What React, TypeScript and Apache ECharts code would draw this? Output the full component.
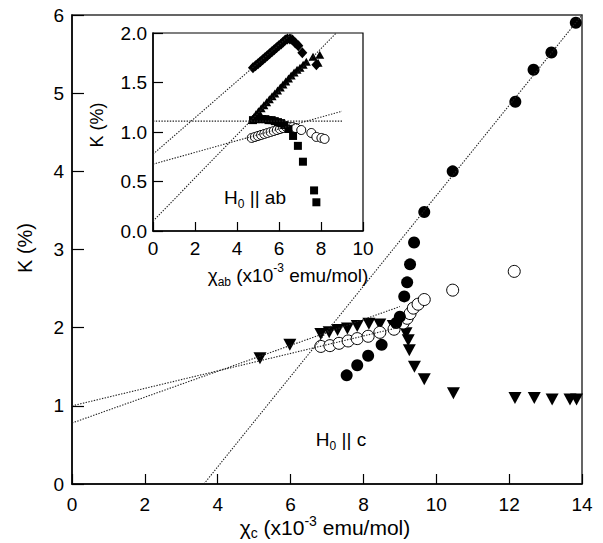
import React, { useEffect, useRef } from 'react';
import * as echarts from 'echarts';

// ---------- Main panel (H0 || c): chi_c (x10^-3 emu/mol) vs K (%) ----------
const cFilledX = [7.54, 7.83, 8.13, 8.5, 8.9, 9.0, 9.12, 9.2, 9.28, 9.39, 9.67, 10.45, 12.17, 12.67, 13.16, 13.83];
const cFilledY = [1.39, 1.52, 1.64, 1.78, 2.06, 2.14, 2.4, 2.58, 2.81, 3.09, 3.48, 4.0, 4.89, 5.3, 5.52, 5.9];

const cOpenX = [6.83, 7.08, 7.33, 7.58, 7.83, 8.13, 8.45, 8.84, 9.09, 9.2, 9.28, 9.37, 9.5, 9.67, 10.45, 12.14];
const cOpenY = [1.76, 1.77, 1.8, 1.83, 1.86, 1.89, 1.94, 1.98, 2.06, 2.12, 2.18, 2.25, 2.3, 2.36, 2.48, 2.72];

const cTriX = [5.16, 5.98, 6.83, 7.06, 7.29, 7.56, 7.83, 8.15, 8.45, 8.82, 9.17, 9.23, 9.26, 9.4, 9.67, 10.47, 12.16, 12.69, 13.18, 13.67, 13.85];
const cTriY = [1.61, 1.78, 1.92, 1.94, 1.97, 1.99, 2.02, 2.05, 2.04, 2.02, 1.93, 1.84, 1.71, 1.5, 1.34, 1.16, 1.1, 1.1, 1.08, 1.08, 1.08];

// dotted fit lines (end points)
const cFitSteepX = [3.62, 14.0];
const cFitSteepY = [0, 6.0];
const cFitOpenX = [0, 8.95];
const cFitOpenY = [1.0, 2.0];
const cFitTriX = [0, 9.0];
const cFitTriY = [0.78, 2.27];

const cTicksX = { min: 0, max: 14, interval: 2 };
const cTicksY = { min: 0, max: 6, interval: 1 };

// ---------- Inset (H0 || ab): chi_ab vs K (%) ----------
const abDiamondX = [4.76, 4.88, 5.0, 5.11, 5.22, 5.33, 5.44, 5.55, 5.66, 5.77, 5.88, 5.99, 6.1, 6.2, 6.3, 6.4, 6.52, 6.64, 6.78, 6.92, 7.11, 7.78];
const abDiamondY = [1.65, 1.67, 1.69, 1.71, 1.73, 1.75, 1.77, 1.79, 1.81, 1.83, 1.85, 1.87, 1.89, 1.91, 1.93, 1.94, 1.94, 1.93, 1.9, 1.87, 1.8, 1.68];

const abTriX = [4.72, 4.8, 4.9, 5.02, 5.15, 5.28, 5.41, 5.54, 5.67, 5.8, 5.93, 6.06, 6.19, 6.32, 6.45, 6.58, 6.72, 6.86, 7.0, 7.15, 7.3, 7.62, 7.86, 7.94];
const abTriY = [1.12, 1.15, 1.18, 1.21, 1.24, 1.27, 1.3, 1.33, 1.36, 1.39, 1.42, 1.45, 1.48, 1.51, 1.54, 1.57, 1.6, 1.63, 1.65, 1.68, 1.71, 1.76, 1.7, 1.78];

const abSquareX = [4.76, 4.9, 5.05, 5.2, 5.35, 5.5, 5.65, 5.8, 5.95, 6.1, 6.25, 6.45, 6.67, 6.9, 7.14, 7.67, 7.78];
const abSquareY = [1.12, 1.13, 1.13, 1.13, 1.13, 1.12, 1.12, 1.11, 1.1, 1.09, 1.07, 1.03, 0.96, 0.86, 0.7, 0.41, 0.29];

const abOpenX = [4.7, 4.85, 5.0, 5.15, 5.3, 5.45, 5.6, 5.75, 5.9, 6.05, 6.2, 6.35, 6.5, 6.65, 6.8, 7.06, 7.54, 7.78, 8.02, 8.17];
const abOpenY = [0.94, 0.95, 0.96, 0.97, 0.98, 0.99, 1.0, 1.01, 1.02, 1.03, 1.04, 1.05, 1.05, 1.05, 1.04, 1.02, 0.99, 0.95, 0.94, 0.93];

const abFitHorizX = [0, 9.0];
const abFitHorizY = [1.11, 1.11];
const abFitOpenX = [0, 9.0];
const abFitOpenY = [0.675, 1.21];
const abFitDiamondX = [0, 6.65];
const abFitDiamondY = [0.776, 2.0];
const abFitTriX = [0, 8.72];
const abFitTriY = [0.1, 2.0];

const abTicksX = { min: 0, max: 10, interval: 2 };
const abTicksY = { min: 0, max: 2, interval: 0.5 };

const FONT = '"Liberation Sans", Arial, Helvetica, sans-serif';
const INK = '#000';

const zip = (xs: number[], ys: number[]) => xs.map((x, i) => [x, ys[i]]);

const richStyles = (size: number) => ({
  n: { fontSize: size, lineHeight: 26, verticalAlign: 'middle', fontFamily: FONT, color: INK },
  sub: { fontSize: Math.round(size * 0.65), lineHeight: 8, verticalAlign: 'bottom', fontFamily: FONT, color: INK },
  sup: { fontSize: Math.round(size * 0.65), lineHeight: 8, verticalAlign: 'top', fontFamily: FONT, color: INK },
});

function lineSeries(name: string, xs: number[], ys: number[], axis: number) {
  return {
    name,
    type: 'line',
    xAxisIndex: axis,
    yAxisIndex: axis,
    data: zip(xs, ys),
    showSymbol: false,
    symbol: 'none',
    z: 6,
    silent: true,
    lineStyle: { color: '#222', width: 1.1, type: [1.4, 1.4] },
  };
}

function scatter(name: string, xs: number[], ys: number[], axis: number, symbol: string, size: any, open: boolean, extra: any = {}) {
  return {
    name,
    type: 'scatter',
    xAxisIndex: axis,
    yAxisIndex: axis,
    data: zip(xs, ys),
    symbol,
    symbolSize: size,
    itemStyle: open
      ? { color: '#fff', borderColor: INK, borderWidth: 1, opacity: 1 }
      : { color: INK, opacity: 1 },
    ...extra,
  };
}

export default function App() {
  const ref = useRef<HTMLDivElement>(null);
  useEffect(() => {
    if (!ref.current) return;
    const chart = echarts.init(ref.current, undefined, { renderer: 'svg' });
    const axisCommon = (fontSize: number, tickLen: number, margin: number) => ({
      type: 'value',
      axisLine: { show: true, onZero: false, lineStyle: { color: INK, width: 1.5 } },
      axisTick: { show: true, inside: true, length: tickLen, lineStyle: { color: INK, width: 1.2 } },
      axisLabel: { color: INK, fontSize, fontFamily: FONT, margin },
      splitLine: { show: false },
    });
    const option: any = {
      animation: false,
      backgroundColor: '#fff',
      grid: [
        { left: 72, top: 15, width: 510, height: 469, show: true, borderColor: '#333', borderWidth: 1.5, backgroundColor: 'transparent' },
        { left: 153, top: 33, width: 210, height: 198, show: true, borderColor: INK, borderWidth: 1.2, backgroundColor: '#fff' },
      ],
      xAxis: [
        { ...axisCommon(19, 10, 11), gridIndex: 0, ...cTicksX },
        { ...axisCommon(19, 9, 8), gridIndex: 1, ...abTicksX },
      ],
      yAxis: [
        { ...axisCommon(19, 12, 8), gridIndex: 0, ...cTicksY },
        {
          ...axisCommon(19, 10, 6),
          gridIndex: 1,
          ...abTicksY,
          axisLabel: { color: INK, fontSize: 19, fontFamily: FONT, margin: 6, formatter: (v: number) => v.toFixed(1) },
        },
      ],
      series: [
        scatter('c-tri', cTriX, cTriY, 0, 'triangle', [13, 12], false, { symbolRotate: 180 }),
        scatter('c-open', cOpenX, cOpenY, 0, 'circle', 12, true),
        scatter('c-filled', cFilledX, cFilledY, 0, 'circle', 12, false),
        lineSeries('c-fit-steep', cFitSteepX, cFitSteepY, 0),
        lineSeries('c-fit-open', cFitOpenX, cFitOpenY, 0),
        lineSeries('c-fit-tri', cFitTriX, cFitTriY, 0),
        scatter('ab-open', abOpenX, abOpenY, 1, 'circle', 9, true),
        scatter('ab-square', abSquareX, abSquareY, 1, 'rect', 8, false),
        scatter('ab-tri', abTriX, abTriY, 1, 'triangle', [9, 8], false),
        scatter('ab-diamond', abDiamondX, abDiamondY, 1, 'diamond', [10, 11], false),
        lineSeries('ab-fit-h', abFitHorizX, abFitHorizY, 1),
        lineSeries('ab-fit-open', abFitOpenX, abFitOpenY, 1),
        lineSeries('ab-fit-diamond', abFitDiamondX, abFitDiamondY, 1),
        lineSeries('ab-fit-tri', abFitTriX, abFitTriY, 1),
      ],
      graphic: [
        {
          type: 'text', x: 325, y: 527, z: 10,
          style: { text: '{n|χ}{sub|c}{n| (x10}{sup|-3}{n| emu/mol)}', rich: richStyles(21), align: 'center', verticalAlign: 'middle' },
        },
        {
          type: 'text', x: 25, y: 248, rotation: Math.PI / 2, z: 10,
          style: { text: 'K (%)', fontSize: 20, fontFamily: FONT, fill: INK, align: 'center', verticalAlign: 'middle' },
        },
        {
          type: 'text', x: 288, y: 275, z: 10,
          style: { text: '{n|χ}{sub|ab}{n| (x10}{sup|-3}{n| emu/mol)}', rich: richStyles(19), align: 'center', verticalAlign: 'middle' },
        },
        {
          type: 'text', x: 97, y: 125, rotation: Math.PI / 2, z: 10,
          style: { text: 'K (%)', fontSize: 18, fontFamily: FONT, fill: INK, align: 'center', verticalAlign: 'middle' },
        },
        {
          type: 'text', x: 341, y: 439, z: 10,
          style: { text: '{n|H}{sub|0}{n| || c}', rich: richStyles(19), align: 'center', verticalAlign: 'middle' },
        },
        {
          type: 'text', x: 255, y: 197, z: 10,
          style: { text: '{n|H}{sub|0}{n| || ab}', rich: richStyles(19), align: 'center', verticalAlign: 'middle' },
        },
      ],
    };
    chart.setOption(option);
    return () => chart.dispose();
  }, []);
  return <div ref={ref} style={{ position: 'fixed', left: 0, top: 0, width: 603, height: 543, background: '#fff' }} />;
}
